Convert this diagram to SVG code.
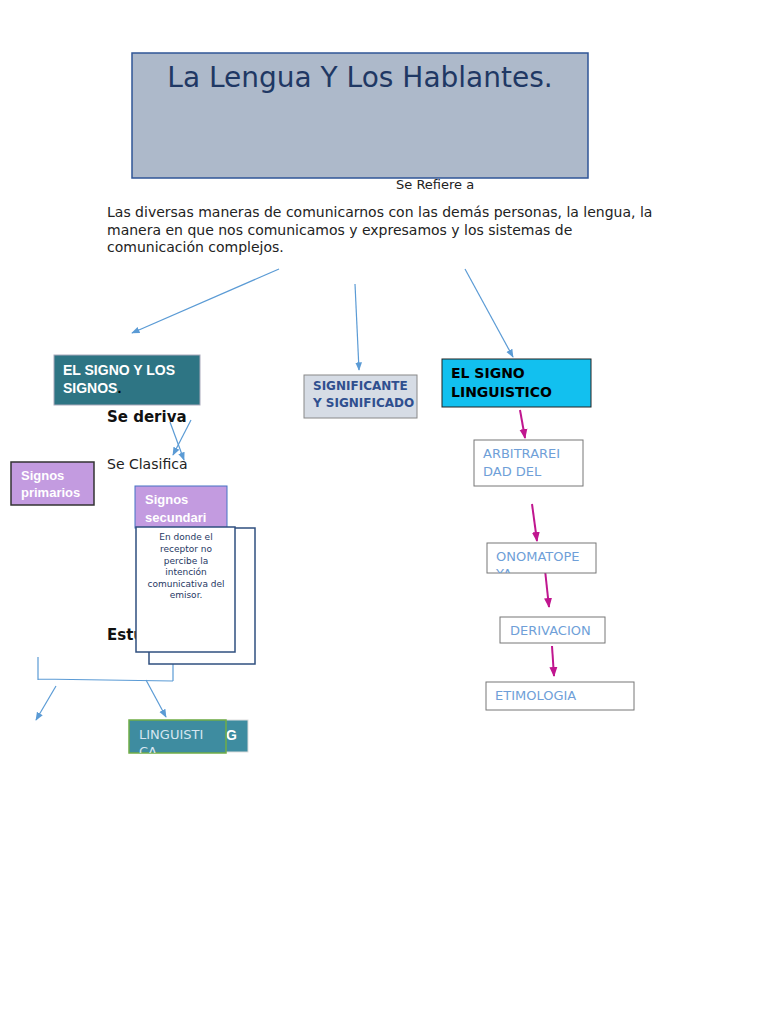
<svg xmlns="http://www.w3.org/2000/svg" width="768" height="1024" viewBox="0 0 768 1024">
<defs>
<style>
text{font-family:"DejaVu Sans","Liberation Sans",sans-serif}
.b{stroke:#5b9bd5;stroke-width:1.2;fill:none}
.m{stroke:#c0168f;stroke-width:2;fill:none}
.lb{fill:#6f9fd8;font-size:13px}
.wb{fill:#fff;font-weight:bold;font-family:"Liberation Sans",sans-serif}
</style>
<marker id="ab" viewBox="0 0 10 10" refX="9" refY="5" markerWidth="7" markerHeight="7" orient="auto"><path d="M0,1L10,5L0,9z" fill="#5b9bd5"/></marker>
<marker id="am" viewBox="0 0 10 10" refX="9" refY="5" markerWidth="5" markerHeight="5" orient="auto"><path d="M0,1L10,5L0,9z" fill="#c0168f"/></marker>
<clipPath id="c1"><rect x="129" y="720" width="97" height="33"/></clipPath>
<clipPath id="c2"><rect x="487" y="543" width="109" height="30"/></clipPath>
</defs>
<rect width="768" height="1024" fill="#fff"/>
<g id="title"><rect x="132" y="53" width="456" height="125" fill="#adb9ca" stroke="#2f5597" stroke-width="1.5"/>
<text x="360" y="87" text-anchor="middle" font-size="28" fill="#1f3864">La Lengua Y Los Hablantes.</text></g>
<text x="396" y="189" font-size="13" fill="#222">Se Refiere a</text>
<g id="desc" font-size="14" fill="#222"><text x="107" y="217">Las diversas maneras de comunicarnos con las demás personas, la lengua, la</text>
<text x="107" y="235">manera en que nos comunicamos y expresamos y los sistemas de</text>
<text x="107" y="252">comunicación complejos.</text></g>
<g id="connectors">
<path class="b" d="M279,269L132,333" marker-end="url(#ab)"/>
<path class="b" d="M355,284L359,370" marker-end="url(#ab)"/>
<path class="b" d="M465,269L513,357" marker-end="url(#ab)"/>
<path class="b" d="M191,420L173,455" marker-end="url(#ab)"/>
<path class="b" d="M170,422L184,460" marker-end="url(#ab)"/>
<path class="b" d="M38,657V680M38,679L173,681M173,657V681"/>
<path class="b" d="M56,686L36,720" marker-end="url(#ab)"/>
<path class="b" d="M146,680L166,717" marker-end="url(#ab)"/>
<path class="m" d="M520,410L525,438" marker-end="url(#am)"/>
<path class="m" d="M532,504L537,541" marker-end="url(#am)"/>
<path class="m" d="M545,570L549,607" marker-end="url(#am)"/>
<path class="m" d="M552,646L554,676" marker-end="url(#am)"/>
</g>
<g id="signos"><rect x="54" y="355" width="146" height="50" fill="#2e7584" stroke="#aab"/>
<text class="wb" x="63" y="375" font-size="14">EL SIGNO Y LOS</text><text class="wb" x="63" y="393" font-size="14">SIGNOS<tspan fill="#000">.</tspan></text></g>
<text x="107" y="422" font-size="15" font-weight="bold" fill="#111">Se deriva</text>
<text x="107" y="469" font-size="14" fill="#222">Se Clasifica</text>
<text x="107" y="640" font-size="15" font-weight="bold" fill="#111">Estudia</text>
<g id="primarios"><rect x="11" y="462" width="83" height="43" fill="#c39be0" stroke="#333" stroke-width="1.5"/>
<text class="wb" x="21" y="480" font-size="13">Signos</text><text class="wb" x="21" y="497" font-size="13">primarios</text></g>
<g id="secundarios"><rect x="135" y="486" width="92" height="42" fill="#c39be0" stroke="#4472c4"/>
<text class="wb" x="145" y="504" font-size="13">Signos</text><text class="wb" x="145" y="522" font-size="13">secundari</text></g>
<g id="back"><rect x="149" y="528" width="106" height="136" fill="#fff" stroke="#2f4f7f" stroke-width="1.5"/></g>
<g id="front"><rect x="136" y="527" width="99" height="125" fill="#fff" stroke="#2f4f7f" stroke-width="1.5"/>
<g font-size="9" fill="#1f3864" text-anchor="middle"><text x="186" y="540">En donde el</text><text x="186" y="552">receptor no</text><text x="186" y="564">percibe la</text><text x="186" y="575">intención</text><text x="186" y="587">comunicativa del</text><text x="186" y="598">emisor.</text></g></g>
<g id="ling"><rect x="185" y="720" width="63" height="32" fill="#3e8ca0" stroke="#ddd"/><text class="wb" x="226" y="740" font-size="14">G</text>
<rect x="129" y="720" width="97" height="33" fill="#3e8ca0" stroke="#70ad47" stroke-width="1.5"/>
<g clip-path="url(#c1)" fill="#d6e6f0" font-size="13"><text x="139" y="739">LINGUISTI</text><text x="139" y="756">CA</text></g></g>
<g id="significante"><rect x="304" y="375" width="113" height="43" fill="#d6dce5" stroke="#888"/>
<g font-family="Liberation Sans" font-weight="bold" font-size="12" fill="#2f4f8f"><text x="313" y="390">SIGNIFICANTE</text><text x="313" y="407">Y SIGNIFICADO</text></g></g>
<g id="linguistico"><rect x="442" y="359" width="149" height="48" fill="#12c0ef" stroke="#222"/>
<g font-family="Liberation Sans" font-weight="bold" font-size="14" fill="#000"><text x="451" y="378">EL SIGNO</text><text x="451" y="397">LINGUISTICO</text></g></g>
<g id="arbitrar"><rect x="474" y="440" width="109" height="46" fill="#fff" stroke="#777"/><text class="lb" x="483" y="458">ARBITRAREI</text><text class="lb" x="483" y="476">DAD DEL</text></g>
<g id="onomat"><rect x="487" y="543" width="109" height="30" fill="#fff" stroke="#777"/><g clip-path="url(#c2)"><text class="lb" x="496" y="561">ONOMATOPE</text><text class="lb" x="496" y="578">YA</text></g></g>
<g id="deriv"><rect x="500" y="617" width="105" height="26" fill="#fff" stroke="#777"/><text class="lb" x="510" y="635">DERIVACION</text></g>
<g id="etim"><rect x="486" y="682" width="148" height="28" fill="#fff" stroke="#777"/><text class="lb" x="495" y="700">ETIMOLOGIA</text></g>
</svg>
